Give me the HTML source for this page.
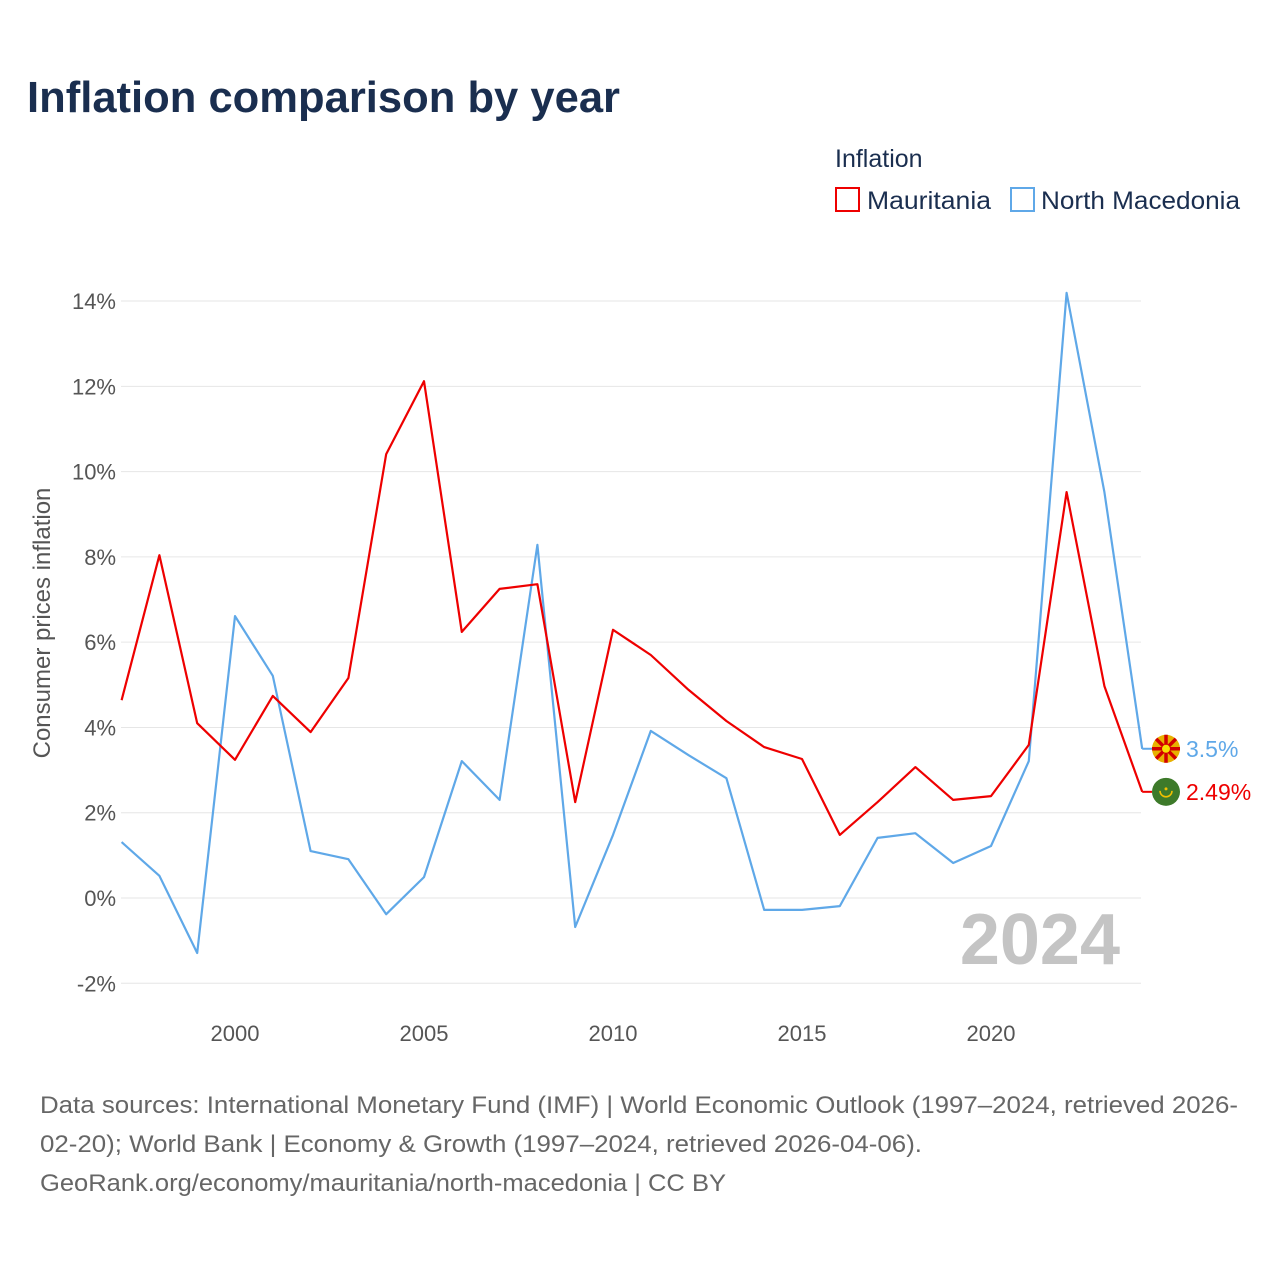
<!DOCTYPE html>
<html><head><meta charset="utf-8">
<style>
body{margin:0;background:#fff;font-family:"Liberation Sans",sans-serif;}
svg text{font-family:"Liberation Sans",sans-serif;}
</style></head>
<body>
<svg id="chart" width="1280" height="1280" viewBox="0 0 1280 1280">
<text x="27" y="112" font-size="44" font-weight="bold" fill="#1a2e4f" textLength="593" lengthAdjust="spacingAndGlyphs">Inflation comparison by year</text>
<text x="835" y="167" font-size="25" fill="#1a2e4f">Inflation</text>
<g>
<rect x="836" y="188" width="23" height="23" fill="none" stroke="#ee0000" stroke-width="2"/>
<text x="867" y="209" font-size="25" fill="#1a2e4f" textLength="124" lengthAdjust="spacingAndGlyphs">Mauritania</text></g>
<g>
<rect x="1011" y="188" width="23" height="23" fill="none" stroke="#5fa8e8" stroke-width="2"/>
<text x="1041" y="209" font-size="25" fill="#1a2e4f" textLength="199" lengthAdjust="spacingAndGlyphs">North Macedonia</text></g>
<g id="grid"></g>
<g id="series"></g>
<text x="1120" y="964" font-size="72" font-weight="bold" fill="#c4c4c4" text-anchor="end">2024</text>
<text transform="translate(50,623) rotate(-90)" font-size="24" fill="#555" text-anchor="middle">Consumer prices inflation</text>
<g font-size="24" fill="#666">
<text x="40" y="1113" textLength="1198" lengthAdjust="spacingAndGlyphs">Data sources: International Monetary Fund (IMF) | World Economic Outlook (1997–2024, retrieved 2026-</text>
<text x="40" y="1152" textLength="882" lengthAdjust="spacingAndGlyphs">02-20); World Bank | Economy &amp; Growth (1997–2024, retrieved 2026-04-06).</text>
<text x="40" y="1191" textLength="686" lengthAdjust="spacingAndGlyphs">GeoRank.org/economy/mauritania/north-macedonia | CC BY</text>
</g>
</svg>
<script>
const years=[1997,1998,1999,2000,2001,2002,2003,2004,2005,2006,2007,2008,2009,2010,2011,2012,2013,2014,2015,2016,2017,2018,2019,2020,2021,2022,2023,2024];
const mauritania=[4.64,8.04,4.10,3.24,4.74,3.89,5.16,10.41,12.12,6.24,7.25,7.36,2.25,6.29,5.70,4.88,4.15,3.54,3.26,1.48,2.25,3.07,2.30,2.39,3.59,9.52,4.97,2.49];
const macedonia=[1.31,0.52,-1.29,6.61,5.21,1.10,0.91,-0.38,0.49,3.21,2.30,8.28,-0.68,1.48,3.92,3.35,2.81,-0.28,-0.28,-0.19,1.41,1.52,0.82,1.22,3.21,14.19,9.52,3.5];
const yTicks=[-2,0,2,4,6,8,10,12,14];
const xTicks=[2000,2005,2010,2015,2020];
const NS="http://www.w3.org/2000/svg";
const X=v=>121.6+(v-1997)*37.8;
const Y=v=>898-v*42.64;
function mk(t,a,p){const e=document.createElementNS(NS,t);for(const k in a)e.setAttribute(k,a[k]);p.appendChild(e);return e;}
const grid=document.getElementById('grid'),ser=document.getElementById('series');
yTicks.forEach(t=>{
const l=mk('line',{x1:121,x2:1141,y1:Y(t),y2:Y(t),stroke:'#e6e6e6','stroke-width':1},grid);


const tx=mk('text',{x:116,y:Y(t)+8,'font-size':22,fill:'#555','text-anchor':'end'},grid);
tx.textContent=t+'%';


});
xTicks.forEach(t=>{
const tx=mk('text',{x:X(t),y:1041,'font-size':22,fill:'#555','text-anchor':'middle'},grid);
tx.textContent=t;


});
function line(vals,color,name){
const pts=vals.map((v,i)=>X(years[i]).toFixed(1)+','+Y(v).toFixed(1)).join(' ');
const p=mk('polyline',{points:pts,fill:'none',stroke:color,'stroke-width':2.2,'stroke-linejoin':'round'},ser);


}
line(macedonia,'#5fa8e8','line-north-macedonia');
line(mauritania,'#ee0000','line-mauritania');
function endLabel(v,color,name,flag,mac){
const y=Y(v);
mk('line',{x1:X(2024),x2:1152,y1:y,y2:y,stroke:color,'stroke-width':2},ser);
const c=mk('circle',{cx:1166,cy:y,r:14,fill:flag},ser);


if(mac){
for(let a=0;a<8;a++){const ang=a*Math.PI/4;
mk('line',{x1:1166,y1:y,x2:1166+14*Math.cos(ang),y2:y+14*Math.sin(ang),stroke:'#d20000','stroke-width':3.5},ser);}
mk('circle',{cx:1166,cy:y,r:4,fill:'#f8e000'},ser);
}else{
mk('path',{d:`M1160 ${y-1} a6 6 0 0 0 12 0`,fill:'none',stroke:'#f0c000','stroke-width':1.6},ser);
mk('circle',{cx:1166,cy:y-3,r:1.5,fill:'#f0c000'},ser);
}
const t=mk('text',{x:1186,y:y+8,'font-size':23,fill:color},ser);
t.textContent=v+'%';


}
endLabel(macedonia[macedonia.length-1],'#5fa8e8','north-macedonia','#e8b000',true);
endLabel(mauritania[mauritania.length-1],'#ee0000','mauritania','#3d7a2a',false);
</script>
</body></html>
